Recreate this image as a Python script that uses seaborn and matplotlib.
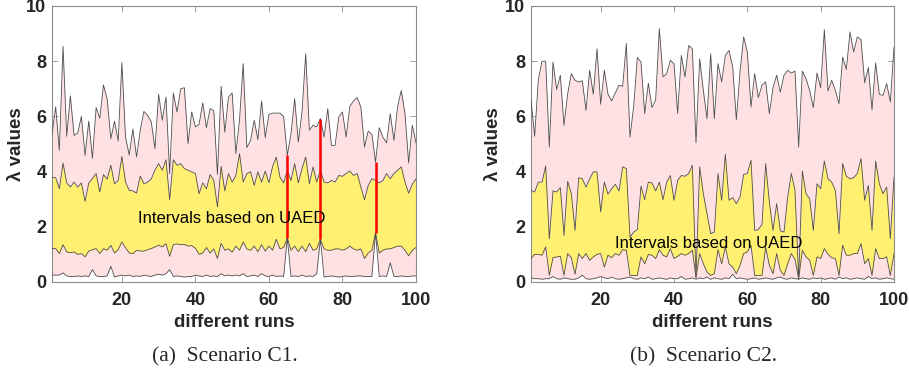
import numpy as np
import pandas as pd
import matplotlib
matplotlib.use("Agg")
import matplotlib.pyplot as plt
import seaborn as sns

runs = list(range(1, 101))

# ---- Scenario C1 ----
c1_upper = [5.37,6.34,4.77,8.54,5.28,6.74,5.31,5.40,6.00,4.59,
            5.83,4.48,6.32,5.93,7.14,6.63,5.19,5.83,5.11,7.95,
            5.25,4.60,5.54,4.53,5.50,6.18,6.04,5.80,4.83,6.80,
            5.86,6.70,3.93,6.85,6.16,7.00,7.04,5.01,6.16,5.62,
            5.71,6.49,5.59,6.28,6.20,3.90,7.09,5.43,6.70,6.85,
            4.65,5.86,7.91,4.87,5.13,5.86,5.16,6.56,5.23,6.07,
            6.12,6.12,6.12,6.00,4.59,5.37,6.64,5.07,6.16,8.27,
            5.50,5.68,5.62,5.92,5.25,6.28,4.95,4.95,5.98,6.16,
            5.25,6.36,6.56,6.68,6.34,4.89,5.47,5.35,4.35,5.59,
            5.25,5.04,6.10,5.13,6.36,6.94,6.10,4.31,5.68,5.04]
c1_yel_up = [3.78,3.78,3.38,4.31,3.59,3.44,3.62,3.44,3.59,2.92,
             3.59,3.75,3.93,3.26,3.89,3.73,4.23,3.56,3.68,4.55,
             3.62,3.32,3.30,3.22,3.84,3.56,3.62,3.74,4.05,4.29,
             4.05,4.43,2.98,4.43,4.23,4.29,4.11,4.05,3.99,3.93,
             3.20,3.59,3.38,3.89,3.68,2.72,4.19,3.30,3.93,3.62,
             3.86,4.65,3.62,3.93,3.99,3.50,3.99,3.62,4.02,3.59,
             4.19,4.53,3.80,3.59,4.05,3.68,4.29,3.59,4.11,4.53,
             3.56,4.17,3.62,4.05,3.62,3.59,3.68,3.62,3.86,3.83,
             3.93,4.02,3.86,3.93,3.44,2.98,3.50,3.74,3.68,3.59,
             3.68,3.93,3.74,3.93,4.05,4.17,3.62,3.22,3.54,3.74]
c1_yel_lo = [1.21,1.21,1.03,1.35,1.09,1.06,1.09,1.00,1.03,0.91,
             1.12,1.17,1.21,1.03,1.21,1.15,1.33,1.05,1.17,1.45,
             1.24,1.05,1.03,1.15,1.12,1.12,1.17,1.21,1.27,1.33,
             1.27,1.39,0.93,1.35,1.38,1.35,1.36,1.30,1.32,1.22,
             1.00,1.05,1.25,1.05,1.20,0.85,1.40,1.15,1.20,1.08,
             1.30,1.15,1.45,1.20,1.15,1.30,1.10,1.35,1.12,1.30,
             1.15,1.55,1.20,1.25,1.60,1.15,1.30,1.10,1.30,1.10,
             1.40,1.15,1.20,1.55,1.20,1.15,1.15,1.20,1.20,1.15,
             1.20,1.30,1.20,1.15,1.20,0.85,1.05,1.15,1.78,1.05,
             1.15,1.20,1.20,1.25,1.30,1.30,1.15,0.95,1.15,1.25]
c1_pink_lo = [0.25,0.25,0.25,0.33,0.22,0.20,0.20,0.22,0.20,0.22,
              0.20,0.45,0.22,0.20,0.20,0.22,0.57,0.18,0.22,0.25,
              0.22,0.25,0.20,0.22,0.20,0.25,0.22,0.20,0.25,0.28,
              0.25,0.30,0.45,0.20,0.22,0.20,0.18,0.20,0.20,0.25,
              0.22,0.20,0.25,0.20,0.22,0.20,0.30,0.22,0.25,0.22,
              0.25,0.22,0.30,0.20,0.22,0.25,0.20,0.30,0.22,0.20,
              0.25,0.20,0.22,0.20,1.60,0.20,0.22,0.20,0.25,0.20,
              0.22,0.20,0.30,1.55,0.18,0.20,0.22,0.20,0.18,0.20,
              0.22,0.20,0.20,0.22,0.22,0.20,0.20,0.20,1.78,0.20,
              0.22,0.20,0.70,0.20,0.20,0.22,0.20,0.20,0.22,0.22]
c1_red_runs = [65, 74, 89]

# ---- Scenario C2 ----
c2_upper = [6.58,5.28,7.33,8.00,8.00,4.89,7.97,6.97,7.49,5.68,
            6.82,7.55,7.31,7.25,7.29,6.22,7.67,6.80,8.45,6.44,
            7.67,6.80,6.56,6.85,7.13,7.09,8.64,5.25,6.36,8.13,
            7.97,6.10,7.20,6.32,6.60,9.18,7.43,7.55,8.03,7.91,
            6.10,8.21,7.43,8.57,8.45,5.04,8.09,6.94,5.92,8.27,
            5.92,7.91,7.25,8.21,8.39,7.79,5.88,7.61,8.88,8.33,
            6.34,7.55,6.68,7.13,7.25,6.10,7.04,7.49,6.88,7.49,
            7.67,7.57,7.64,4.89,7.64,7.37,6.94,6.32,7.57,7.04,
            9.14,6.92,7.31,6.94,6.46,8.15,7.70,9.06,8.33,8.88,
            8.78,7.22,7.77,6.24,7.94,6.80,6.76,7.19,6.52,8.50]
c2_yel_up = [3.32,3.26,3.62,3.62,4.20,1.57,3.30,3.26,3.42,1.69,
             3.65,3.20,1.87,3.78,3.74,3.44,3.74,3.99,3.99,2.54,
             3.62,3.18,3.38,3.54,3.30,4.17,4.11,1.63,1.81,1.90,
             3.47,2.98,3.62,3.59,3.30,3.62,2.98,3.62,3.86,2.96,
             3.68,3.86,3.83,3.93,4.23,0.16,4.17,3.20,2.48,1.75,
             1.81,3.93,2.96,4.63,2.96,3.06,2.84,3.08,3.90,3.93,
             4.41,1.87,1.90,2.09,4.29,2.90,1.87,2.84,1.85,1.81,
             3.08,3.93,3.32,0.12,4.02,3.20,3.02,1.87,3.56,3.38,
             4.38,3.74,3.62,3.32,1.75,4.29,3.83,3.74,3.78,3.93,
             4.47,2.96,3.50,1.87,4.38,3.56,3.20,3.44,1.57,3.80]
c2_yel_lo = [0.85,1.00,1.00,0.97,1.27,0.24,0.88,0.91,0.93,0.24,
             1.03,0.88,0.28,1.03,0.85,1.03,0.79,0.91,1.00,1.03,
             0.54,0.97,0.88,1.03,0.97,1.17,1.15,0.24,0.24,0.24,
             0.91,0.66,1.00,0.97,0.85,1.17,0.97,0.91,1.21,0.85,
             0.93,1.03,0.97,1.03,1.15,0.16,1.03,0.66,0.36,0.24,
             0.30,1.17,0.66,1.27,0.66,0.54,0.30,0.60,1.03,1.09,
             1.33,0.24,0.24,0.24,1.27,0.60,0.30,1.03,0.42,0.24,
             0.66,1.03,0.81,0.12,1.15,0.91,0.79,0.24,0.91,0.85,
             1.21,1.00,0.88,0.85,0.24,1.33,0.97,0.97,1.03,1.03,
             1.39,0.66,0.85,0.24,1.21,0.85,0.85,0.91,0.24,1.03]
c2_pink_lo = [0.15,0.12,0.12,0.10,0.12,0.12,0.20,0.12,0.10,0.15,
              0.12,0.10,0.10,0.15,0.25,0.12,0.10,0.12,0.15,0.20,
              0.15,0.12,0.18,0.12,0.10,0.12,0.15,0.18,0.12,0.10,
              0.15,0.12,0.18,0.10,0.12,0.15,0.12,0.10,0.15,0.12,
              0.12,0.20,0.10,0.12,0.15,0.10,0.15,0.12,0.18,0.10,
              0.15,0.12,0.10,0.15,0.12,0.28,0.12,0.15,0.12,0.10,
              0.12,0.15,0.10,0.12,0.15,0.12,0.10,0.15,0.18,0.12,
              0.10,0.15,0.12,0.10,0.15,0.12,0.10,0.15,0.12,0.15,
              0.10,0.12,0.15,0.10,0.18,0.12,0.15,0.10,0.12,0.15,
              0.12,0.10,0.20,0.12,0.15,0.10,0.12,0.15,0.12,0.10]
c2_red_runs = []

xticks = [20, 40, 60, 80, 100]
yticks = [0, 2, 4, 6, 8, 10]
annotation = "Intervals based on UAED"
captions = ["(a)  Scenario C1.", "(b)  Scenario C2."]

sns.set_style("white")
plt.rcParams['font.family'] = ['Liberation Sans', 'DejaVu Sans']

PINK = "#FFE1E4"
YELLOW = "#FFF071"
LINE = "#4d4d4d"
AXC = "#8c8c8c"
TXT = "#262626"

fig = plt.figure(figsize=(9.09, 3.75), dpi=100)
ax1 = fig.add_axes([52/909, 93/375, 364/909, 276/375])
ax2 = fig.add_axes([531/909, 93/375, 363/909, 276/375])

panels = [
    (ax1, c1_upper, c1_yel_up, c1_yel_lo, c1_pink_lo, c1_red_runs, (24.5, 2.3), -0.098),
    (ax2, c2_upper, c2_yel_up, c2_yel_lo, c2_pink_lo, c2_red_runs, (24.0, 1.4), -0.102),
]

for ax, up, yu, yl, pl, reds, txtpos, ylx in panels:
    df = pd.DataFrame({"run": runs, "up": up, "yu": yu, "yl": yl, "pl": pl})
    ax.fill_between(df["run"], df["pl"], df["up"], color=PINK, lw=0, zorder=1)
    ax.fill_between(df["run"], df["yl"], df["yu"], color=YELLOW, lw=0, zorder=2)
    for col in ["up", "yu", "yl", "pl"]:
        sns.lineplot(data=df, x="run", y=col, ax=ax, color=LINE, lw=0.6, zorder=3)
    if reds:
        rd = df[df["run"].isin(reds)]
        ax.vlines(rd["run"], rd["pl"], rd["up"], colors="red", lw=1.8, zorder=4)
    ax.text(txtpos[0], txtpos[1], annotation, fontsize=12, color="black",
            ha="left", va="center", zorder=5)
    ax.set_xlim(1, 100)
    ax.set_ylim(0, 10)
    ax.set_xticks(xticks)
    ax.set_yticks(yticks)
    ax.set_xticklabels([str(t) for t in xticks], fontsize=13, fontweight="bold", color=TXT)
    ax.set_yticklabels([str(t) for t in yticks], fontsize=13, fontweight="bold", color=TXT)
    ax.tick_params(direction="in", length=4, width=0.6, color=AXC,
                   top=True, right=True, bottom=True, left=True)
    ax.tick_params(axis="x", pad=7)
    ax.tick_params(axis="y", pad=4)
    for sp in ax.spines.values():
        sp.set_color(AXC)
        sp.set_linewidth(0.8)
    ax.set_xlabel("different runs", fontsize=13.5, fontweight="bold", color=TXT)
    ax.set_ylabel("λ values", fontsize=13.5, fontweight="bold", color=TXT)
    ax.xaxis.set_label_coords(0.5, -0.148)
    ax.xaxis.label.set_va("center")
    ax.yaxis.set_label_coords(ylx, 0.5)
    ax.yaxis.label.set_va("center")

fig.text(225/909, 0.048, captions[0], fontsize=15.5, family="Liberation Serif",
         ha="center", va="center")
fig.text(703/909, 0.048, captions[1], fontsize=15.5, family="Liberation Serif",
         ha="center", va="center")

fig.savefig("out.png", dpi=100)
